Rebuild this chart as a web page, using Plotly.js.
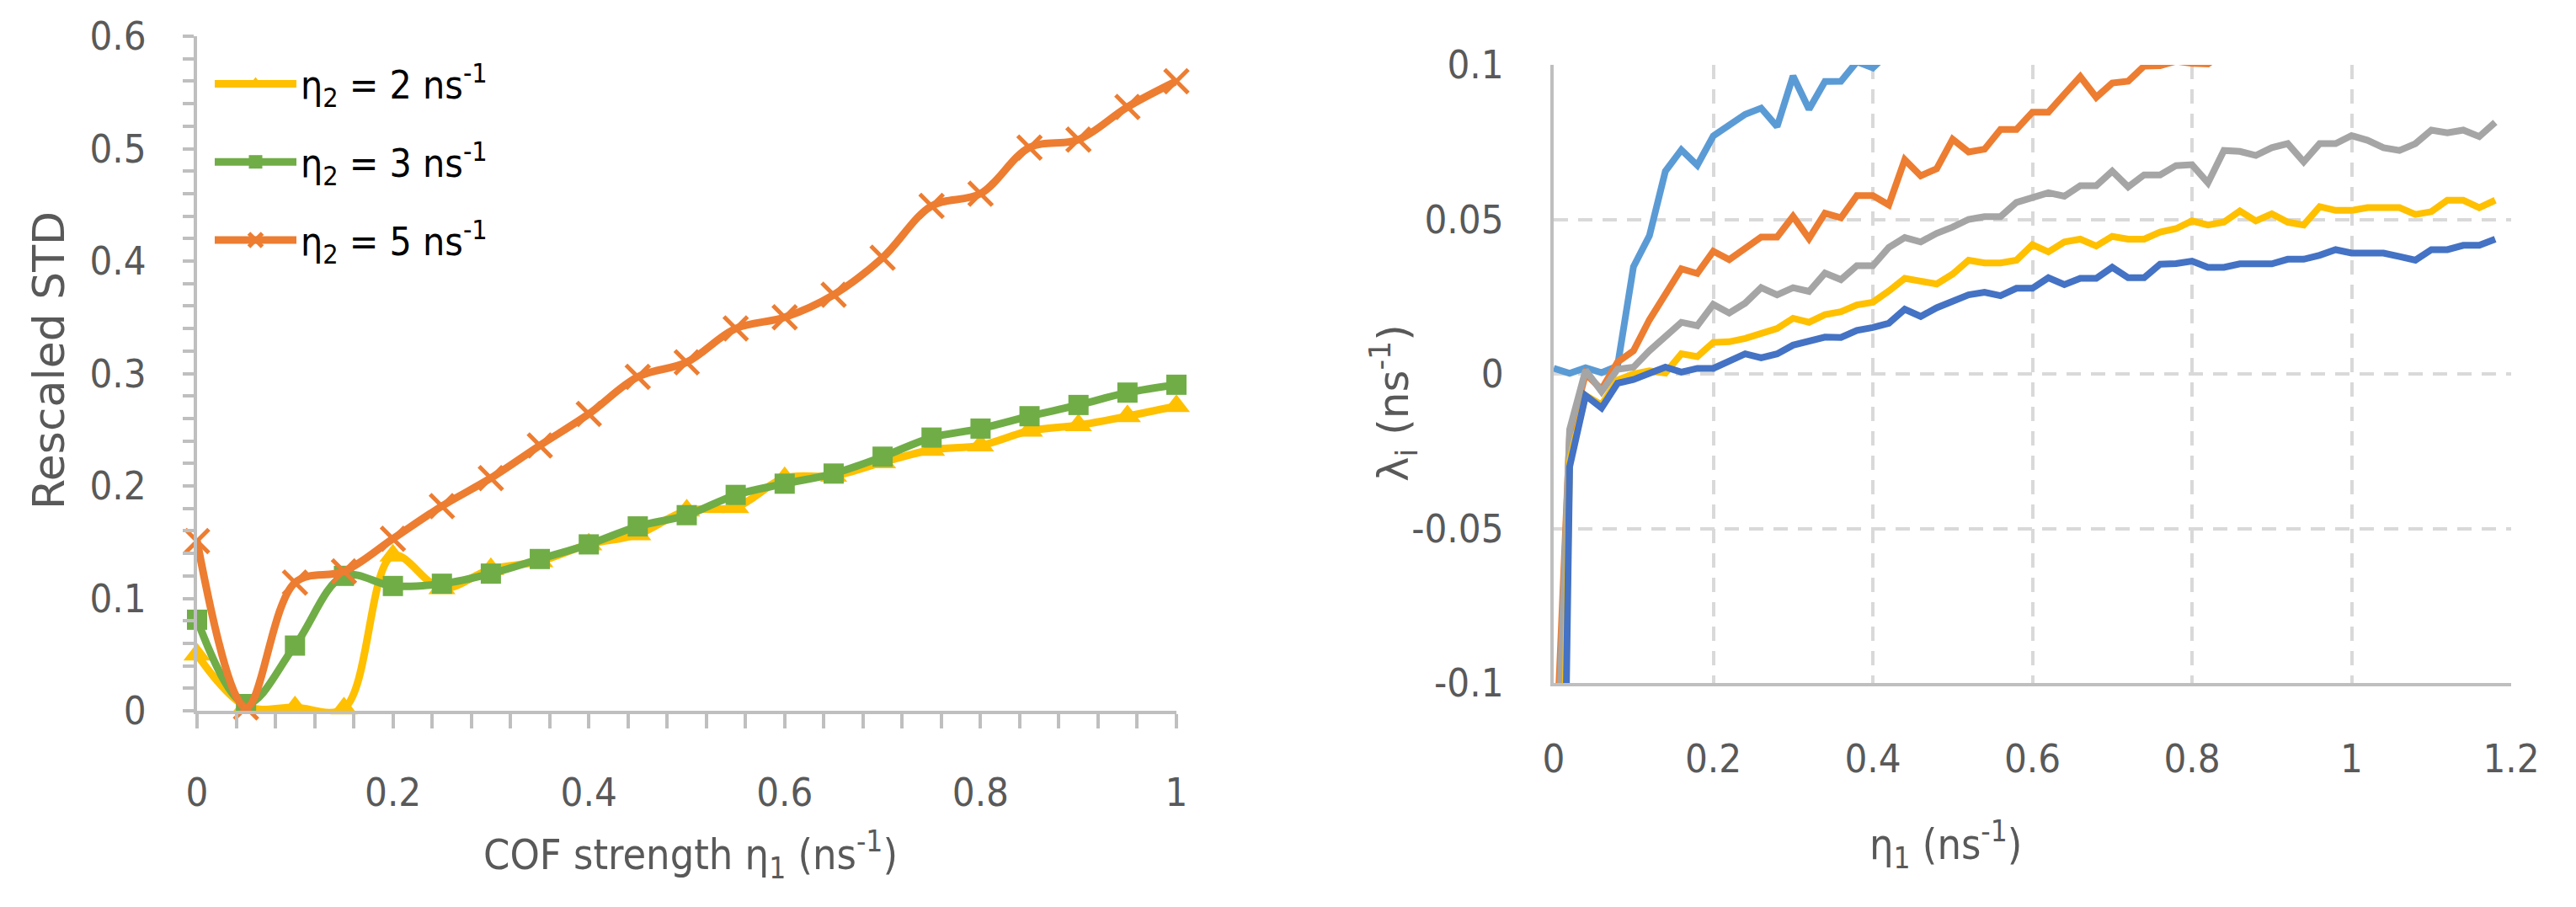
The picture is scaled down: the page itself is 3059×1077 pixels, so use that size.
<!DOCTYPE html>
<html>
<head>
<meta charset="utf-8">
<script src="https://cdn.plot.ly/plotly-3.0.1.min.js"></script>
<style>
  html, body { margin: 0; padding: 0; background: #fff; }
  #chart { width: 3059px; height: 1077px; }
</style>
</head>
<body>
<div id="chart"></div>
<script>
// left panel: rescaled STD vs COF strength
var cofStrength = [0, 0.05, 0.1, 0.15, 0.2, 0.25, 0.3, 0.35, 0.4, 0.45, 0.5,
                   0.55, 0.6, 0.65, 0.7, 0.75, 0.8, 0.85, 0.9, 0.95, 1];
var stdEta2 = [0.05, 0.004, 0.003, 0.002, 0.138, 0.109, 0.126, 0.133, 0.148, 0.157, 0.178,
               0.181, 0.207, 0.209, 0.221, 0.232, 0.236, 0.249, 0.254, 0.262, 0.271];
var stdEta3 = [0.081, 0.006, 0.058, 0.12, 0.111, 0.113, 0.122, 0.135, 0.148, 0.164, 0.174,
               0.192, 0.202, 0.211, 0.226, 0.243, 0.251, 0.262, 0.272, 0.283, 0.29];
var stdEta5 = [0.151, 0.003, 0.114, 0.124, 0.153, 0.182, 0.207, 0.236, 0.264, 0.297, 0.31,
               0.34, 0.35, 0.37, 0.403, 0.449, 0.46, 0.501, 0.508, 0.537, 0.56];
var legendNames = ['η<sub>2</sub> = 2 ns<sup>-1</sup>',
                   'η<sub>2</sub> = 3 ns<sup>-1</sup>',
                   'η<sub>2</sub> = 5 ns<sup>-1</sup>'];

// right panel: lambda_i vs eta1 (lines leave the frame above 0.1 and below -0.1)
var eta1 = [0, 0.02, 0.04, 0.06, 0.08, 0.1, 0.12, 0.14, 0.16, 0.18,
            0.2, 0.22, 0.24, 0.26, 0.28, 0.3, 0.32, 0.34, 0.36, 0.38,
            0.4, 0.42, 0.44, 0.46, 0.48, 0.5, 0.52, 0.54, 0.56, 0.58,
            0.6, 0.62, 0.64, 0.66, 0.68, 0.7, 0.72, 0.74, 0.76, 0.78,
            0.8, 0.82, 0.84, 0.86, 0.88, 0.9, 0.92, 0.94, 0.96, 0.98,
            1, 1.02, 1.04, 1.06, 1.08, 1.1, 1.12, 1.14, 1.16, 1.18];
var lamDarkBlue = [-0.38, -0.030, -0.007, -0.011, -0.003, -0.0018, 0.0002, 0.0022, 0.0006, 0.0018,
                   0.0018, 0.0043, 0.0065, 0.0052, 0.0065, 0.0093, 0.0106, 0.0119, 0.0118, 0.0141,
                   0.015, 0.0164, 0.0209, 0.0186, 0.0214, 0.0234, 0.0256, 0.0264, 0.0253, 0.0277,
                   0.0277, 0.0311, 0.0289, 0.0309, 0.0309, 0.0345, 0.0311, 0.0311, 0.0355, 0.0357,
                   0.0365, 0.0345, 0.0345, 0.0356, 0.0356, 0.0356, 0.0371, 0.0371, 0.0384, 0.0402,
                   0.0391, 0.0391, 0.0391, 0.038, 0.0368, 0.0402, 0.0402, 0.0416, 0.0416, 0.0436];
var lamYellow = [-0.30, -0.028, -0.007, -0.010, -0.002, 0.0, 0.001, 0.0003, 0.0065, 0.0056,
                 0.0102, 0.0104, 0.0115, 0.0129, 0.0147, 0.018, 0.0167, 0.0192, 0.0201, 0.0223,
                 0.0232, 0.0268, 0.0309, 0.03, 0.0291, 0.0323, 0.0368, 0.0359, 0.0359, 0.0368,
                 0.0418, 0.0395, 0.0427, 0.0436, 0.0414, 0.0445, 0.0436, 0.0436, 0.0459, 0.047,
                 0.0495, 0.0482, 0.0491, 0.0527, 0.0495, 0.0518, 0.0491, 0.0482, 0.0541, 0.0529,
                 0.0529, 0.0538, 0.0538, 0.0538, 0.0516, 0.0525, 0.0562, 0.0562, 0.0538, 0.0562];
var lamGray = [-0.16, -0.018, 0.0012, -0.0057, 0.0015, 0.0022, 0.0075, 0.012, 0.0167, 0.0156,
               0.0225, 0.0197, 0.0229, 0.0279, 0.0256, 0.0279, 0.0267, 0.0326, 0.0305, 0.035,
               0.035, 0.0409, 0.0441, 0.0427, 0.0455, 0.0475, 0.05, 0.0509, 0.0509, 0.0555,
               0.0568, 0.0586, 0.0575, 0.0609, 0.0609, 0.0656, 0.0605, 0.0644, 0.0644, 0.0674,
               0.0677, 0.0618, 0.0723, 0.072, 0.0707, 0.0732, 0.0745, 0.0686, 0.0745, 0.0745,
               0.0771, 0.0756, 0.0732, 0.0723, 0.0745, 0.0789, 0.078, 0.0789, 0.0768, 0.0814];
var lamOrange = [-0.14, -0.02, 0.0, -0.005, 0.0038, 0.0075, 0.0175, 0.0256, 0.034, 0.0325,
                 0.0397, 0.037, 0.0406, 0.0443, 0.0443, 0.051, 0.0438, 0.052, 0.0505, 0.0577,
                 0.0577, 0.0547, 0.0693, 0.0641, 0.0664, 0.0759, 0.0718, 0.0727, 0.0791, 0.0791,
                 0.0847, 0.0847, 0.0905, 0.0962, 0.0895, 0.0941, 0.0947, 0.0996, 0.0997, 0.1012,
                 0.1005, 0.1003, 0.104];
var lamLightBlue = [0.0018, 0.0002, 0.002, 0.0004, 0.0025, 0.0347, 0.0447, 0.0656, 0.0725, 0.0675,
                    0.077, 0.0806, 0.084, 0.086, 0.080, 0.0964, 0.0856, 0.0946, 0.0947, 0.101,
                    0.099, 0.104];
var lamTickVals = [-0.1, -0.05, 0, 0.05, 0.1];
var lamTickText = ['-0.1', '-0.05', '0', '0.05', '0.1'];

var W = 3059, H = 1077;
function px(x) { return x / W; }
function py(y) { return 1 - y / H; }

var narrow = 'DejaVu Sans Condensed, Liberation Sans, sans-serif';
var wide = 'DejaVu Sans, Verdana, sans-serif';
var grey = '#595959';
var axisGrey = '#BFBFBF';

function leftTrace(y, name, color, symbol, size, group) {
  var marker = {symbol: symbol, size: size, color: color};
  if (symbol === 'x-thin') marker.line = {color: color, width: 5};
  return {
    x: cofStrength, y: y, name: name, type: 'scatter', mode: 'lines+markers',
    xaxis: 'x', yaxis: 'y', legendgroup: group, cliponaxis: false,
    line: {color: color, width: 9, shape: 'spline', smoothing: 1},
    marker: marker
  };
}

function rightTrace(y, color) {
  return {
    x: eta1.slice(0, y.length), y: y, type: 'scatter', mode: 'lines',
    xaxis: 'x2', yaxis: 'y2', showlegend: false,
    line: {color: color, width: 8}
  };
}

var data = [
  leftTrace(stdEta2, legendNames[0], '#FFC000', 'triangle-up', 28, 'a'),
  leftTrace(stdEta3, legendNames[1], '#70AD47', 'square', 24, 'b'),
  leftTrace(stdEta5, legendNames[2], '#ED7D31', 'x-thin', 28, 'c'),
  rightTrace(lamLightBlue, '#5B9BD5'),
  rightTrace(lamOrange, '#ED7D31'),
  rightTrace(lamGray, '#A5A5A5'),
  rightTrace(lamYellow, '#FFC000'),
  rightTrace(lamDarkBlue, '#4472C4')
];

var tickFont = {family: narrow, size: 47, color: grey};

var layout = {
  width: W, height: H,
  margin: {l: 0, r: 0, t: 0, b: 0},
  paper_bgcolor: '#fff', plot_bgcolor: '#fff',
  showlegend: true,
  legend: {
    x: px(250), y: py(63), xanchor: 'left', yanchor: 'top',
    font: {family: narrow, size: 46, color: '#000'},
    bgcolor: 'rgba(0,0,0,0)', tracegroupgap: 30, itemwidth: 97
  },
  xaxis: {
    domain: [px(234), px(1397)], range: [0, 1], dtick: 0.2, tick0: 0,
    showgrid: false, zeroline: false,
    showline: true, linecolor: axisGrey, linewidth: 4,
    ticks: 'outside', ticklen: 17, tickwidth: 4, tickcolor: axisGrey,
    minor: {dtick: 0.04, ticks: 'outside', ticklen: 17, tickwidth: 4, tickcolor: axisGrey, showgrid: false},
    ticklabelstandoff: 36, tickfont: tickFont
  },
  yaxis: {
    domain: [py(844), py(43)], range: [0, 0.6], dtick: 0.1, tick0: 0,
    showgrid: false, zeroline: false,
    showline: true, linecolor: axisGrey, linewidth: 4,
    ticks: 'outside', ticklen: 13, tickwidth: 4, tickcolor: axisGrey,
    minor: {dtick: 0.02, ticks: 'outside', ticklen: 13, tickwidth: 4, tickcolor: axisGrey, showgrid: false},
    ticklabelstandoff: 34, tickfont: tickFont
  },
  xaxis2: {
    domain: [px(1845), px(2982)], range: [0, 1.2], dtick: 0.2, tick0: 0, anchor: 'y2',
    showgrid: true, gridcolor: '#D9D9D9', gridwidth: 4, griddash: '17px,12px',
    zeroline: false, showline: true, linecolor: axisGrey, linewidth: 4,
    ticks: '', ticklabelstandoff: 46, tickfont: tickFont
  },
  yaxis2: {
    domain: [py(811), py(77)], range: [-0.1, 0.1], anchor: 'x2',
    tickmode: 'array', tickvals: lamTickVals, ticktext: lamTickText,
    showgrid: true, gridcolor: '#D9D9D9', gridwidth: 4, griddash: '17px,12px',
    zeroline: false, showline: true, linecolor: axisGrey, linewidth: 4,
    ticks: '', ticklabelstandoff: 46, tickfont: tickFont
  },
  annotations: [
    {text: 'Rescaled STD', x: px(58), y: py(428), xref: 'paper', yref: 'paper',
     textangle: -90, showarrow: false, xanchor: 'center', yanchor: 'middle',
     font: {family: wide, size: 52, color: grey}},
    {text: 'COF strength η<sub>1</sub> (ns<sup>-1</sup>)', x: px(820), y: py(1015),
     xref: 'paper', yref: 'paper', showarrow: false, xanchor: 'center', yanchor: 'middle',
     font: {family: narrow, size: 50, color: grey}},
    {text: 'λ<sub>i</sub> (ns<sup>-1</sup>)', x: px(1655), y: py(479), xref: 'paper', yref: 'paper',
     textangle: -90, showarrow: false, xanchor: 'center', yanchor: 'middle',
     font: {family: wide, size: 50, color: grey}},
    {text: 'η<sub>1</sub> (ns<sup>-1</sup>)', x: px(2310), y: py(1003),
     xref: 'paper', yref: 'paper', showarrow: false, xanchor: 'center', yanchor: 'middle',
     font: {family: narrow, size: 50, color: grey}}
  ]
};

Plotly.newPlot('chart', data, layout, {displayModeBar: false});
</script>
</body>
</html>
